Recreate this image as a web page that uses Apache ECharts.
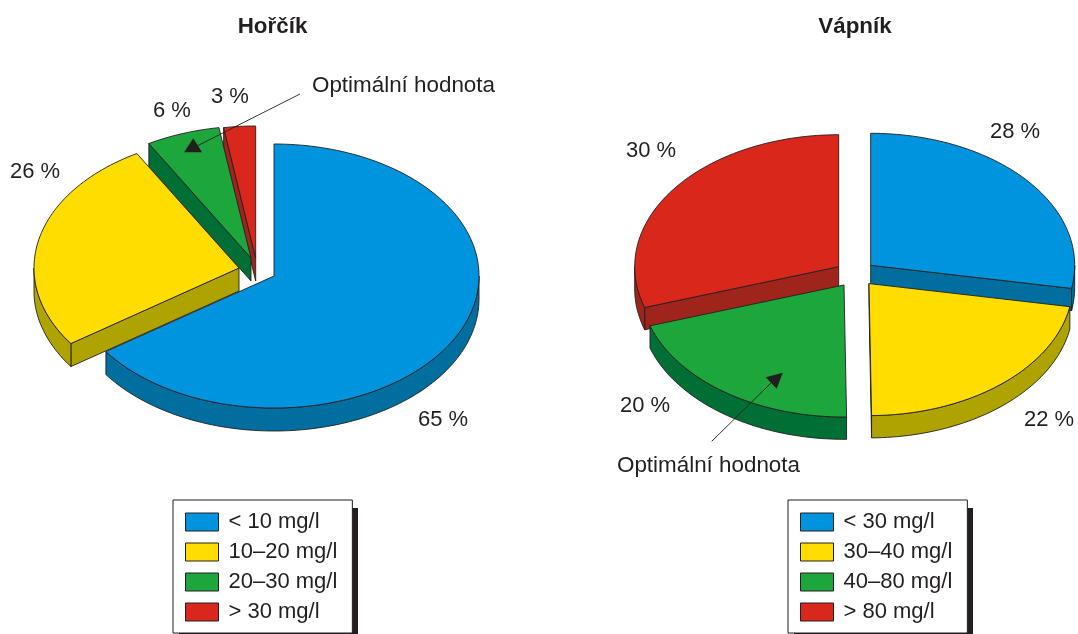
<!DOCTYPE html>
<html><head><meta charset="utf-8">
<style>html,body{margin:0;padding:0;background:#fff}#c{width:1078px;height:634px}</style>
<script src="https://cdn.jsdelivr.net/npm/echarts@6/dist/echarts.min.js"></script>
</head><body><div id="c"></div>
<script>
// ---- data ----
const mgCategories = ['< 10 mg/l', '10–20 mg/l', '20–30 mg/l', '> 30 mg/l'];
const mgValues = [65.3, 26.4, 5.8, 2.5];      // slice sizes; printed labels are these rounded
const caCategories = ['< 30 mg/l', '30–40 mg/l', '40–80 mg/l', '> 80 mg/l'];
const caValues = [27.8, 22.0, 20.2, 30.0];
const mgTitle = 'Hořčík';
const caTitle = 'Vápník';
const noteText = 'Optimální hodnota';

// ---- style and layout ----
const INK = '#231f20', FONT = '"Liberation Sans", Arial, sans-serif', FS = 22;
const topColors = ['#0094de', '#ffdd00', '#1ca63c', '#d9271c'];
const wallColors = ['#006e9e', '#aea300', '#006f35', '#9e241c'];
const mgGeom = { rx: 205, ry: 132, depth: 23 };
const caGeom = { rx: 204, ry: 132, depth: 22.3 };
const mgCentres = [[274, 276], [239, 268], [251, 258], [255.7, 258]];
const mgLabelPos = [[418, 420], [10, 172], [153, 111], [211, 97]];
const mgOrder = [3, 2, 1, 0];
const caCentres = [[870.7, 265.3], [869, 283.6], [844, 285], [838.7, 266.7]];
const caLabelPos = [[990, 132], [1024, 420], [620, 406], [626, 151]];
const caOrder = [0, 1, 3, 2];

function rim(g, c, deg, dz) {
  const t = deg * Math.PI / 180;
  return [c[0] + g.rx * Math.sin(t), c[1] - g.ry * Math.cos(t) + dz];
}
function arc(g, c, a, b, dz) {
  const pts = [], n = Math.max(2, Math.ceil(Math.abs(b - a) / 1.5));
  for (let i = 0; i <= n; i++) pts.push(rim(g, c, a + (b - a) * i / n, dz));
  return pts;
}
function poly(points, fill) {
  return { type: 'polygon', shape: { points }, style: { fill, stroke: INK, lineWidth: 0.9, lineJoin: 'round' } };
}
function sliceSeries(names, values, g, centres, labelPos, order) {
  const total = values.reduce((s, v) => s + v, 0);
  let acc = 0;
  return names.map((name, i) => {
    const a = acc / total * 360; acc += values[i];
    const b = acc / total * 360;
    const c = centres[i], top = topColors[i], wall = wallColors[i], D = g.depth;
    return {
      type: 'custom', name, coordinateSystem: 'none', silent: true, animation: false,
      z: 2 + order.indexOf(i), itemStyle: { color: top },
      data: [values[i]],
      renderItem() {
        const kids = [];
        const sa = Math.sin(a * Math.PI / 180), sb = Math.sin(b * Math.PI / 180);
        const lo = Math.max(a, 90), hi = Math.min(b, 270);
        if (sa < -1e-6) { const p = rim(g, c, a, 0); kids.push(poly([c, p, [p[0], p[1] + D], [c[0], c[1] + D]], wall)); }
        if (sb > 1e-6) { const p = rim(g, c, b, 0); kids.push(poly([c, p, [p[0], p[1] + D], [c[0], c[1] + D]], wall)); }
        if (hi > lo) kids.push(poly(arc(g, c, lo, hi, 0).concat(arc(g, c, hi, lo, D)), wall));
        kids.push(poly([c].concat(arc(g, c, a, b, 0)), top));
        kids.push({ type: 'text', z2: 5, style: {
          text: Math.round(values[i]) + ' %', x: labelPos[i][0], y: labelPos[i][1],
          fill: INK, font: FS + 'px ' + FONT, textAlign: 'left', textVerticalAlign: 'middle' } });
        return { type: 'group', children: kids };
      }
    };
  });
}
function legendBox(names, left) {
  return {
    data: names, orient: 'vertical', left, top: 500, height: 112, selectedMode: false,
    icon: 'rect', padding: [11, 15, 10, 12], itemGap: 8, itemWidth: 33, itemHeight: 18,
    backgroundColor: '#fff', borderColor: INK, borderWidth: 1,
    itemStyle: { borderColor: INK, borderWidth: 1 },
    textStyle: { color: INK, fontSize: FS, fontFamily: FONT, lineHeight: 22, padding: [0, 0, 0, 5] }
  };
}
function note(x, y, text) {
  return { type: 'text', z: 20, style: { text, x, y, fill: INK, font: '22.4px ' + FONT, textVerticalAlign: 'middle' } };
}
function seg(x1, y1, x2, y2) {
  return { type: 'line', z: 20, shape: { x1, y1, x2, y2 }, style: { stroke: INK, lineWidth: 0.9 } };
}
function tri(points) {
  return { type: 'polygon', z: 20, shape: { points }, style: { fill: INK } };
}
function dropShadow(x) {
  return { type: 'rect', z: 1, shape: { x, y: 508, width: 179, height: 130 }, style: { fill: INK } };
}

const chart = echarts.init(document.getElementById('c'), null, { renderer: 'canvas' });
chart.setOption({
  animation: false,
  backgroundColor: '#fff',
  title: [
    { text: mgTitle, left: 267.5, top: 11, textAlign: 'center', textStyle: { color: INK, fontFamily: FONT, fontWeight: 'bold', fontSize: 22.4 } },
    { text: caTitle, left: 850, top: 11, textAlign: 'center', textStyle: { color: INK, fontFamily: FONT, fontWeight: 'bold', fontSize: 22.4 } }
  ],
  legend: [legendBox(mgCategories, 173), legendBox(caCategories, 788)],
  series: sliceSeries(mgCategories, mgValues, mgGeom, mgCentres, mgLabelPos, mgOrder)
    .concat(sliceSeries(caCategories, caValues, caGeom, caCentres, caLabelPos, caOrder)),
  graphic: [
    dropShadow(179), dropShadow(794),
    note(312, 86, noteText),
    seg(300, 94, 197, 146),
    tri([[193.3, 138.3], [184, 152.3], [202, 152.3]]),
    note(617, 466, noteText),
    seg(711.7, 441.3, 772, 382),
    tri([[782.7, 372.7], [765.7, 377.3], [776.7, 388.7]])
  ]
});
</script></body></html>
